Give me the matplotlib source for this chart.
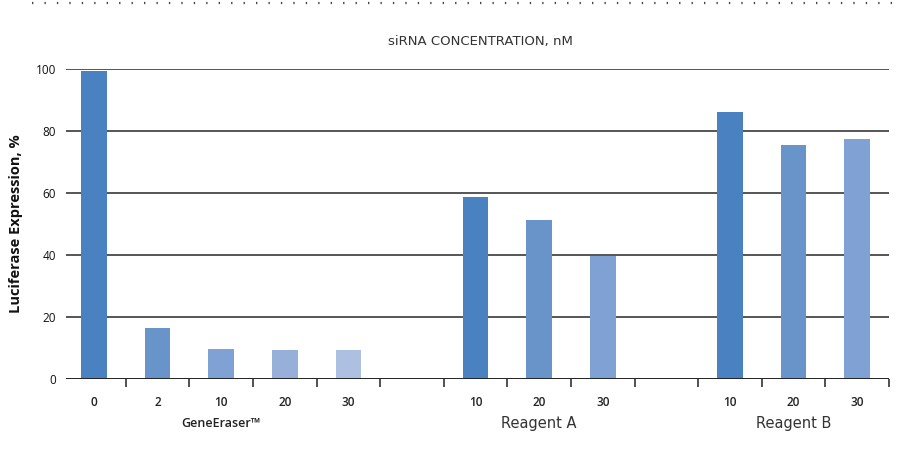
import matplotlib
matplotlib.use("Agg")
import matplotlib.pyplot as plt
from matplotlib import font_manager

# Data
tick_labels = ["0", "2", "10", "20", "30", "", "10", "20", "30", "", "10", "20", "30"]
values = [99.6, 16.4, 9.6, 9.3, 9.3, None, 58.8, 51.3, 39.7, None, 86.2, 75.5, 77.5]
bar_colors = ["#4a82c1", "#6894ca", "#7fa1d4", "#96b0da", "#adc0e1", None,
              "#4a82c1", "#6894ca", "#7fa1d4", None,
              "#4a82c1", "#6894ca", "#7fa1d4"]
groups = ["GeneEraser™", "Reagent A", "Reagent B"]
group_centers = [2, 7, 11]
y_ticks = [0, 20, 40, 60, 80, 100]

names = {f.name for f in font_manager.fontManager.ttflist}
narrow = "Liberation Sans Narrow" if "Liberation Sans Narrow" in names else "DejaVu Sans"

W, H = 898, 454
fig = plt.figure(figsize=(W / 100, H / 100), dpi=100)
left, right, top, bottom = 66, 889, 69.3, 378.7
ax = fig.add_axes([left / W, 1 - bottom / H, (right - left) / W, (bottom - top) / H])

n = len(values)
for i, (v, c) in enumerate(zip(values, bar_colors)):
    if v is None:
        continue
    ax.bar(i, v, width=0.4, color=c, zorder=3)

ax.set_xlim(-0.44, n - 0.5)
ax.set_ylim(0, 100)

# Horizontal gridlines
for yv in y_ticks[1:]:
    ax.axhline(yv, color="#555555", lw=1.4, zorder=1)
ax.axhline(0, color="#222222", lw=1.4, zorder=4)

for s in ax.spines.values():
    s.set_visible(False)

ax.set_yticks(y_ticks)
ax.set_yticklabels([str(t) for t in y_ticks], fontsize=8.5, family="Open Sans",
                   color="#111111")
ax.tick_params(axis="y", length=0, pad=7)

# Category boundary ticks below the baseline
bounds = [i + 0.5 for i in range(n)]
ax.set_xticks(bounds)
ax.set_xticklabels([""] * len(bounds))
ax.tick_params(axis="x", direction="out", length=6, width=1.2, color="#333333")

for i, lab in enumerate(tick_labels):
    if lab:
        ax.text(i, -5.5, lab, ha="center", va="top", fontsize=8.5,
                family="Open Sans", fontweight="semibold", color="#222222",
                transform=ax.transData, clip_on=False)

for g, cx in zip(groups, group_centers):
    if g == "GeneEraser™":
        ax.text(cx, -12.3, g, ha="center", va="top", fontsize=9,
                family="Open Sans", fontweight="semibold", color="#222222", clip_on=False)
    else:
        ax.text(cx, -12.0, g, ha="center", va="top", fontsize=10.5,
                family=narrow, color="#333333", clip_on=False)

ax.set_ylabel("Luciferase Expression, %", fontsize=10.5, family="Open Sans",
              fontweight="bold", color="#111111")
ax.yaxis.set_label_coords((23 - left) / (right - left), 0.5)

fig.text(480 / W, 1 - 42 / H, "siRNA CONCENTRATION, nM", ha="center", va="center",
         fontsize=9.5, family=narrow, color="#333333")

# Dotted rule along the top edge
fig.add_artist(plt.Line2D([32 / W, 1.0], [1 - 2.5 / H, 1 - 2.5 / H],
                          transform=fig.transFigure, color="#444444",
                          lw=1.6, linestyle=(0, (0.6, 5))))

fig.savefig("out.png", dpi=100)
